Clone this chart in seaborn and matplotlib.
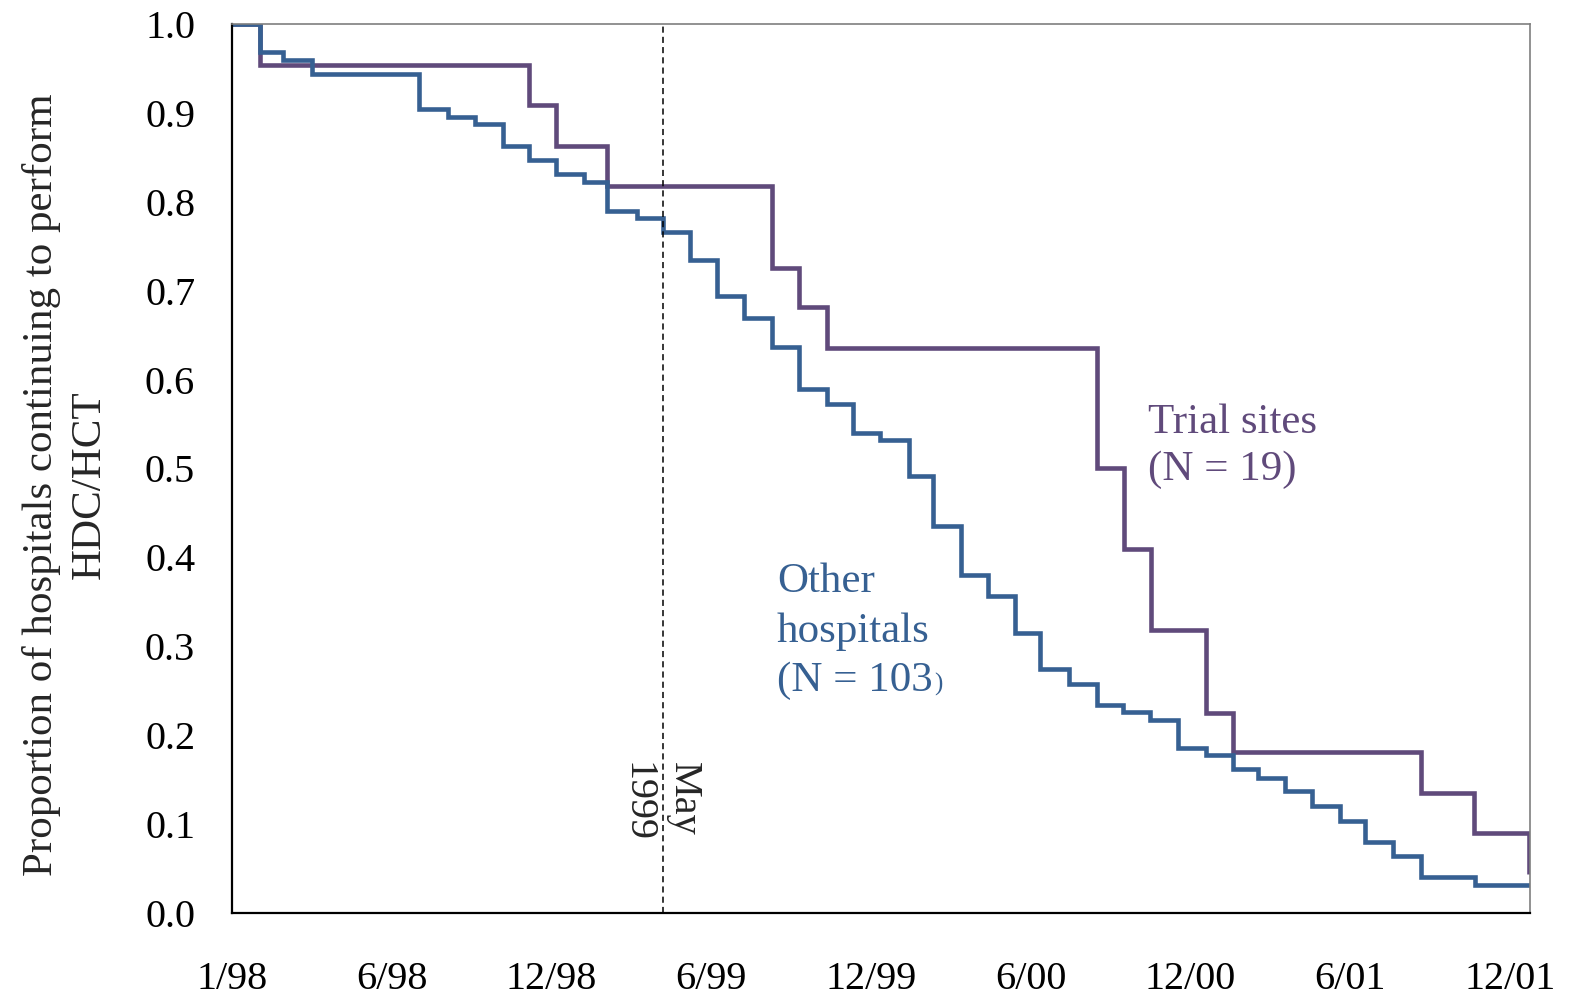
import matplotlib
matplotlib.use("Agg")
import matplotlib.pyplot as plt
import seaborn as sns
import pandas as pd

# ---- data (x = months index where each tick step of 6 = one labelled period) ----
tick_pos = [0, 6, 12, 18, 24, 30, 36, 42, 48]
tick_labels = ["1/98", "6/98", "12/98", "6/99", "12/99", "6/00", "12/00", "6/01", "12/01"]

other_t = [0, 1.05, 1.93, 2.99, 7.03, 8.12, 9.14, 10.17, 11.15, 12.16, 13.23, 14.1, 15.2,
           16.2, 17.2, 18.2, 19.23, 20.29, 21.3, 22.33, 23.34, 24.34, 25.42, 26.34, 27.38,
           28.4, 29.4, 30.35, 31.45, 32.48, 33.48, 34.48, 35.52, 36.57, 37.58, 38.55, 39.55,
           40.55, 41.6, 42.54, 43.6, 44.66, 46.7, 48.75]
other_s = [1.0, 0.968, 0.960, 0.944, 0.904, 0.895, 0.887, 0.863, 0.847, 0.831, 0.822, 0.790,
           0.782, 0.766, 0.734, 0.694, 0.669, 0.637, 0.589, 0.573, 0.540, 0.532, 0.492, 0.435,
           0.380, 0.357, 0.315, 0.274, 0.2575, 0.234, 0.226, 0.217, 0.1855, 0.178, 0.162,
           0.152, 0.137, 0.1205, 0.104, 0.080, 0.064, 0.0405, 0.032, 0.032]

trial_t = [0, 1.05, 11.15, 12.16, 14.1, 20.29, 21.29, 22.33, 32.5, 33.5, 34.5, 36.57, 37.58,
           44.66, 46.66, 48.7]
trial_s = [1.0, 0.954, 0.909, 0.863, 0.818, 0.726, 0.682, 0.635, 0.5, 0.41, 0.318, 0.225,
           0.181, 0.135, 0.0905, 0.044]

may_1999 = 16.2
x_max = 48.75

c_trial = "#604A7B"
c_other = "#366092"

df = pd.concat([
    pd.DataFrame({"t": trial_t, "s": trial_s, "group": "Trial sites"}),
    pd.DataFrame({"t": other_t, "s": other_s, "group": "Other hospitals"}),
], ignore_index=True)

sns.set_style("white")
plt.rcParams["font.family"] = ["Liberation Serif", "DejaVu Serif"]

fig = plt.figure(figsize=(15.83, 9.97), dpi=100)
ax = fig.add_axes([232 / 1583, 1 - 913 / 997, 1298 / 1583, 889 / 997])

sns.lineplot(data=df, x="t", y="s", hue="group",
             palette={"Trial sites": c_trial, "Other hospitals": c_other},
             hue_order=["Trial sites", "Other hospitals"],
             estimator=None, drawstyle="steps-post", linewidth=3.3,
             legend=False, ax=ax, solid_joinstyle="miter", solid_capstyle="butt")

ax.axvline(may_1999, ymin=0, ymax=1, color="black", lw=1.1, dashes=(4, 2.7))

ax.set_xlim(0, x_max)
ax.set_ylim(0, 1.0)
ax.set_xticks(tick_pos)
ax.set_xticklabels(tick_labels)
ax.set_yticks([i / 10 for i in range(11)])
ax.set_yticklabels([f"{i/10:.1f}" for i in range(11)])
ax.set_xlabel("")
ax.tick_params(axis="both", direction="out", length=9.5, width=1.3, labelsize=29,
               colors="black")
ax.tick_params(axis="y", pad=17)
ax.tick_params(axis="x", pad=25)

for side in ["left", "bottom"]:
    ax.spines[side].set_color("black")
    ax.spines[side].set_linewidth(1.6)
for side in ["top", "right"]:
    ax.spines[side].set_color("#7f7f7f")
    ax.spines[side].set_linewidth(1.2)

ax.set_ylabel("Proportion of hospitals continuing to perform\nHDC/HCT",
              fontsize=31, ha="center", va="center", linespacing=1.3)
ax.yaxis.set_label_coords(-0.1285, 0.4815)

# annotations
ax.text(34.4, 0.54, "Trial sites", color=c_trial, fontsize=31, ha="left", va="baseline")
ax.text(34.4, 0.487, "(N = 19)", color=c_trial, fontsize=31, ha="left", va="baseline")
ax.text(20.47, 0.361, "Other", color=c_other, fontsize=31, ha="left", va="baseline")
ax.text(20.47, 0.305, "hospitals", color=c_other, fontsize=31, ha="left", va="baseline")
t = ax.text(20.47, 0.250, "(N = 103", color=c_other, fontsize=31, ha="left", va="baseline")
fig.canvas.draw()
bb = t.get_window_extent()
xr = ax.transData.inverted().transform((bb.x1, 0))[0]
ax.text(xr + 0.05, 0.250, ")", color=c_other, fontsize=18, ha="left", va="baseline")

ax.text(16.94, 0.170, "May", rotation=-90, fontsize=29, ha="center", va="top")
ax.text(15.21, 0.170, "1999", rotation=-90, fontsize=29, ha="center", va="top")

fig.savefig("out.png", dpi=100)
